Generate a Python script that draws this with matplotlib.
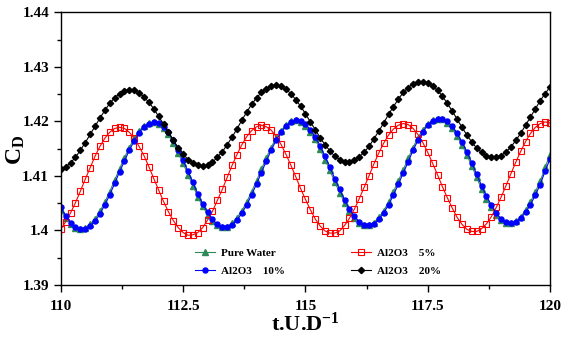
import numpy as np
import matplotlib
matplotlib.use("Agg")
import matplotlib.pyplot as plt
from matplotlib.ticker import MultipleLocator, FuncFormatter

plt.rcParams['font.family'] = 'Liberation Serif'
plt.rcParams['font.weight'] = 'bold'
plt.rcParams['mathtext.fontset'] = 'custom'
plt.rcParams['mathtext.rm'] = 'Liberation Serif:bold'
plt.rcParams['mathtext.bf'] = 'Liberation Serif:bold'
plt.rcParams['mathtext.it'] = 'Liberation Serif:bold'

# time axis, sampled every 0.1
t = np.linspace(110, 120, 101)

pure_water = [
    1.4038, 1.4023, 1.4012, 1.4005, 1.4002, 1.4005, 1.4011, 1.4021, 1.4035, 1.4052,
    1.4071, 1.4092, 1.4113, 1.4133, 1.4152, 1.4169, 1.4182, 1.4192, 1.4197, 1.4198,
    1.4195, 1.4187, 1.4176, 1.4160, 1.4142, 1.4123, 1.4102, 1.4082, 1.4062, 1.4044,
    1.4029, 1.4017, 1.4010, 1.4006, 1.4007, 1.4013, 1.4023, 1.4036, 1.4052, 1.4071,
    1.4091, 1.4112, 1.4133, 1.4152, 1.4170, 1.4183, 1.4193, 1.4200, 1.4202, 1.4199,
    1.4192, 1.4181, 1.4167, 1.4149, 1.4130, 1.4110, 1.4089, 1.4069, 1.4051, 1.4035,
    1.4023, 1.4014, 1.4010, 1.4010, 1.4014, 1.4024, 1.4036, 1.4052, 1.4071, 1.4091,
    1.4111, 1.4132, 1.4152, 1.4170, 1.4185, 1.4195, 1.4202, 1.4205, 1.4204, 1.4197,
    1.4187, 1.4173, 1.4157, 1.4138, 1.4118, 1.4097, 1.4076, 1.4058, 1.4042, 1.4029,
    1.4019, 1.4014, 1.4014, 1.4017, 1.4025, 1.4037, 1.4052, 1.4071, 1.4090, 1.4116,
    1.4139]

al2o3_5 = [
    1.4002, 1.4016, 1.4032, 1.4051, 1.4072, 1.4094, 1.4115, 1.4136, 1.4154, 1.4169,
    1.4180, 1.4187, 1.4189, 1.4187, 1.4180, 1.4169, 1.4154, 1.4137, 1.4117, 1.4095,
    1.4074, 1.4053, 1.4034, 1.4018, 1.4005, 1.3996, 1.3991, 1.3992, 1.3996, 1.4005,
    1.4019, 1.4035, 1.4055, 1.4075, 1.4097, 1.4119, 1.4139, 1.4157, 1.4172, 1.4183,
    1.4190, 1.4193, 1.4190, 1.4184, 1.4172, 1.4158, 1.4140, 1.4120, 1.4099, 1.4077,
    1.4057, 1.4038, 1.4021, 1.4008, 1.3999, 1.3995, 1.3995, 1.3999, 1.4009, 1.4022,
    1.4039, 1.4058, 1.4079, 1.4100, 1.4122, 1.4142, 1.4160, 1.4175, 1.4186, 1.4193,
    1.4196, 1.4194, 1.4187, 1.4176, 1.4161, 1.4143, 1.4123, 1.4102, 1.4080, 1.4060,
    1.4041, 1.4024, 1.4011, 1.4002, 1.3998, 1.3998, 1.4003, 1.4012, 1.4025, 1.4042,
    1.4061, 1.4082, 1.4104, 1.4125, 1.4145, 1.4163, 1.4178, 1.4189, 1.4196, 1.4199,
    1.4197]

al2o3_10 = [
    1.4042, 1.4027, 1.4014, 1.4006, 1.4002, 1.4003, 1.4008, 1.4017, 1.4030, 1.4047,
    1.4065, 1.4086, 1.4107, 1.4127, 1.4147, 1.4164, 1.4179, 1.4190, 1.4196, 1.4199,
    1.4197, 1.4190, 1.4180, 1.4165, 1.4148, 1.4129, 1.4108, 1.4088, 1.4067, 1.4049,
    1.4033, 1.4020, 1.4011, 1.4006, 1.4006, 1.4010, 1.4019, 1.4031, 1.4047, 1.4065,
    1.4085, 1.4106, 1.4127, 1.4147, 1.4165, 1.4180, 1.4191, 1.4199, 1.4202, 1.4201,
    1.4195, 1.4185, 1.4172, 1.4155, 1.4136, 1.4116, 1.4095, 1.4075, 1.4056, 1.4039,
    1.4026, 1.4016, 1.4010, 1.4009, 1.4012, 1.4020, 1.4032, 1.4047, 1.4065, 1.4085,
    1.4105, 1.4126, 1.4147, 1.4165, 1.4181, 1.4193, 1.4201, 1.4205, 1.4205, 1.4200,
    1.4191, 1.4178, 1.4162, 1.4144, 1.4124, 1.4103, 1.4082, 1.4063, 1.4046, 1.4032,
    1.4021, 1.4015, 1.4013, 1.4015, 1.4022, 1.4033, 1.4047, 1.4065, 1.4084, 1.4109,
    1.4131]

al2o3_20 = [
    1.4112, 1.4116, 1.4124, 1.4134, 1.4147, 1.4161, 1.4176, 1.4191, 1.4206, 1.4220,
    1.4233, 1.4243, 1.4251, 1.4256, 1.4258, 1.4257, 1.4252, 1.4245, 1.4235, 1.4223,
    1.4209, 1.4195, 1.4180, 1.4165, 1.4152, 1.4140, 1.4130, 1.4123, 1.4119, 1.4118,
    1.4120, 1.4125, 1.4134, 1.4144, 1.4157, 1.4171, 1.4186, 1.4202, 1.4217, 1.4231,
    1.4243, 1.4253, 1.4260, 1.4265, 1.4266, 1.4264, 1.4259, 1.4251, 1.4240, 1.4228,
    1.4214, 1.4199, 1.4185, 1.4170, 1.4157, 1.4146, 1.4136, 1.4130, 1.4126, 1.4126,
    1.4129, 1.4135, 1.4143, 1.4154, 1.4168, 1.4182, 1.4197, 1.4213, 1.4227, 1.4241,
    1.4253, 1.4262, 1.4269, 1.4273, 1.4273, 1.4271, 1.4265, 1.4257, 1.4246, 1.4233,
    1.4219, 1.4204, 1.4189, 1.4175, 1.4162, 1.4151, 1.4143, 1.4137, 1.4134, 1.4134,
    1.4137, 1.4144, 1.4153, 1.4165, 1.4178, 1.4193, 1.4208, 1.4223, 1.4238, 1.4251,
    1.4263]

fig = plt.figure(figsize=(5.63, 3.42), dpi=100)
ax = fig.add_axes([0.108, 0.167, 0.869, 0.797])

ax.plot(t, pure_water, color='#2e8b57', marker='^', ms=4, lw=0.8, label='Pure Water')
ax.plot(t, al2o3_5, color='red', marker='s', ms=3.8, mfc='none', mew=0.8, lw=0.8,
        label='Al2O3    5%')
ax.plot(t, al2o3_10, color='blue', marker='o', ms=3.6, lw=0.8, label='Al2O3    10%')
ax.plot(t, al2o3_20, color='black', marker='D', ms=3.2, lw=0.8, label='Al2O3    20%')

ax.set_xlim(110, 120)
ax.set_ylim(1.39, 1.44)
ax.xaxis.set_major_locator(MultipleLocator(2.5))
ax.xaxis.set_minor_locator(MultipleLocator(1.25))
ax.yaxis.set_major_locator(MultipleLocator(0.01))
ax.yaxis.set_minor_locator(MultipleLocator(0.005))
fmt = FuncFormatter(lambda v, p: '%g' % round(v, 4))
ax.xaxis.set_major_formatter(fmt)
ax.yaxis.set_major_formatter(fmt)
ax.tick_params(which='both', direction='out', top=False, right=False, labelsize=11)
ax.tick_params(which='major', length=5, width=1)
ax.tick_params(which='minor', length=3, width=1)
ax.tick_params(axis='x', pad=6)
for s in ax.spines.values():
    s.set_linewidth(1)

ax.set_xlabel(r't.U.D$^{\mathregular{-1}}$', fontsize=16, fontweight='bold')
ax.xaxis.set_label_coords(0.5, -0.1)
ax.set_ylabel(r'C$_{\mathregular{D}}$', fontsize=17, fontweight='bold')
ax.yaxis.set_label_coords(-0.07, 0.495)

h, l = ax.get_legend_handles_labels()
order = [0, 2, 1, 3]
ax.legend([h[i] for i in order], [l[i] for i in order], ncol=2, frameon=False,
          loc='center', bbox_to_anchor=(0.526, 0.084), fontsize=8,
          handlelength=1.8, handletextpad=0.5, columnspacing=6, labelspacing=0.8)

fig.savefig('out.png', dpi=100)
